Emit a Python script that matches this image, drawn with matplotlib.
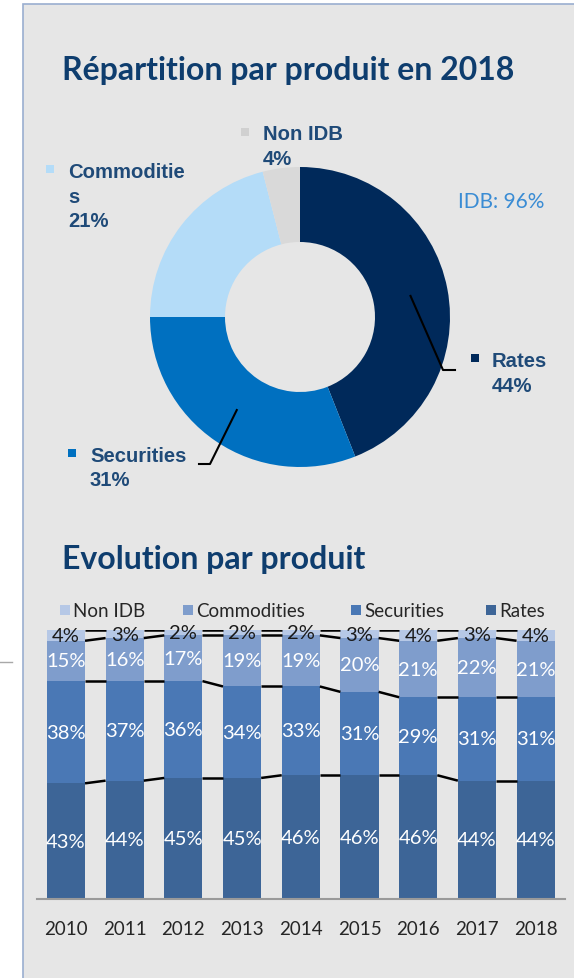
import numpy as np
import matplotlib
matplotlib.use('Agg')
import matplotlib.pyplot as plt
from matplotlib.patches import Rectangle
from matplotlib.lines import Line2D

# donut data (2018)
pie_labels = ['Rates', 'Securities', 'Commodities', 'Non IDB']
pie_values = [44, 31, 21, 4]
pie_colors = ['#00295a', '#0070c0', '#b4dcf8', '#d9d9d9']

# stacked bars
years = ['2010', '2011', '2012', '2013', '2014', '2015', '2016', '2017', '2018']
rates = [43, 44, 45, 45, 46, 46, 46, 44, 44]
securities = [38, 37, 36, 34, 33, 31, 29, 31, 31]
commodities = [15, 16, 17, 19, 19, 20, 21, 22, 21]
non_idb = [4, 3, 2, 2, 2, 3, 4, 3, 4]
bar_colors = ['#3d6597', '#4a78b5', '#7f9dcc', '#b6c8e6']

W, H = 574, 979
BG = '#e6e6e6'
NAVY = '#0e3d6e'
LBL = '#1f4a78'


def fx(x):
    return x / W


def fy(y):
    return 1 - y / H


fig = plt.figure(figsize=(W / 100, H / 100), dpi=100)
fig.patch.set_facecolor('white')

# grey panel behind everything
fig.patches.append(Rectangle((fx(23), fy(990)), fx(600), 985 / H, transform=fig.transFigure,
                             facecolor=BG, edgecolor='#9aaed0', lw=1.2, zorder=-5))
fig.lines.append(Line2D([fx(0), fx(12)], [fy(663), fy(663)], transform=fig.transFigure,
                        color='#a8a8a8', lw=1))

# titles
fig.text(fx(62), fy(80), 'Répartition par produit en 2018', family='Lato', weight='bold',
         fontsize=23, color=NAVY, va='baseline')
fig.text(fx(62), fy(569), 'Evolution par produit', family='Lato', weight='bold',
         fontsize=23, color=NAVY, va='baseline')

# ---- donut
R = 150
ax1 = fig.add_axes([fx(300 - R), fy(318 + R), 2 * R / W, 2 * R / H])
ax1.set_facecolor('none')
wedges, _ = ax1.pie(pie_values, colors=pie_colors, startangle=90, counterclock=False,
                    radius=1, wedgeprops=dict(width=0.5, linewidth=0))
ax1.set_xlim(-1, 1)
ax1.set_ylim(-1, 1)
ax1.set_aspect('auto')
ax1.axis('off')


def mid_point(i, r=0.75):
    start = sum(pie_values[:i])
    frac = (start + pie_values[i] / 2) / sum(pie_values)
    ang = np.deg2rad(90 - 360 * frac)
    return r * np.cos(ang), r * np.sin(ang)


def to_ax(x, y):
    return (x - 300) / R, (318 - y) / R


# leader lines for Rates and Securities
for i, knee, end in [(0, (443, 371), (455, 371)), (1, (210, 465), (199, 465))]:
    x0, y0 = mid_point(i)
    kx, ky = to_ax(*knee)
    ex, ey = to_ax(*end)
    ax1.plot([x0, kx, ex], [y0, ky, ey], color='black', lw=1.5, clip_on=False)


def pie_label(marker_xy, text_x, baselines, lines, color):
    mx, my = marker_xy
    fig.patches.append(Rectangle((fx(mx), fy(my + 8)), 8 / W, 8 / H, transform=fig.transFigure,
                                 facecolor=color, edgecolor='none'))
    for b, t in zip(baselines, lines):
        fig.text(fx(text_x), fy(b), t, family='Liberation Sans', weight='bold', fontsize=14.6,
                 color=LBL, va='baseline')


pie_label((241, 129), 263, [140, 165], ['Non IDB', '%d%%' % pie_values[3]], '#d0d0d0')
pie_label((46, 166), 68, [178, 203], ['Commoditie', 's'], pie_colors[2])
fig.text(fx(68), fy(227), '%d%%' % pie_values[2], family='Liberation Sans', weight='bold',
         fontsize=14.6, color=LBL, va='baseline')
pie_label((471, 355), 492, [367, 392], ['Rates', '%d%%' % pie_values[0]], pie_colors[0])
pie_label((68, 450), 90, [462, 486], ['Securities', '%d%%' % pie_values[1]], pie_colors[1])
fig.text(fx(458), fy(208), 'IDB: %d%%' % (100 - pie_values[3]), family='Lato', fontsize=15,
         color='#3a8cd4', va='baseline')

# ---- stacked bars
ax2 = fig.add_axes([fx(36.6), fy(900), (565 - 36.6) / W, 269 / H])
ax2.set_facecolor('none')
x = np.arange(len(years))
bw = 0.65
series = [rates, securities, commodities, non_idb]
bottom = np.zeros(len(years))
tops = []
for k, (vals, col) in enumerate(zip(series, bar_colors)):
    vals = np.array(vals)
    ax2.bar(x, vals, bw, bottom=bottom, color=col, zorder=2)
    tcol = '#1a1a1a' if k == 3 else 'white'
    for xi, b, v in zip(x, bottom, vals):
        ax2.text(xi, b + v / 2, '%d%%' % v, ha='center', va='center', family='Lato',
                 fontsize=14.5, color=tcol, zorder=4)
    bottom = bottom + vals
    tops.append(bottom.copy())

# series lines between bars
for cum in tops:
    for i in range(len(years) - 1):
        ax2.plot([x[i] + bw / 2, x[i + 1] - bw / 2], [cum[i], cum[i + 1]], color='black',
                 lw=1.8, zorder=3, solid_capstyle='butt')

ax2.set_xlim(-0.5, len(years) - 0.5)
ax2.set_ylim(0, 100)
ax2.set_yticks([])
ax2.set_xticks(x)
ax2.set_xticklabels(years, family='Lato', fontsize=13.5, color='#262626')
ax2.tick_params(axis='x', length=0, pad=15)
for s in ['top', 'right', 'left']:
    ax2.spines[s].set_visible(False)
ax2.spines['bottom'].set_color('#9a9a9a')
ax2.spines['bottom'].set_linewidth(1.5)

# legend, drawn by hand to match spacing
leg_names = ['Non IDB', 'Commodities', 'Securities', 'Rates']
leg_cols = [bar_colors[3], bar_colors[2], bar_colors[1], bar_colors[0]]
leg_sq = [60, 183, 351, 486]
for name, col, sx in zip(leg_names, leg_cols, leg_sq):
    fig.patches.append(Rectangle((fx(sx), fy(616)), 10 / W, 10 / H, transform=fig.transFigure,
                                 facecolor=col, edgecolor='none'))
    fig.text(fx(sx + 13), fy(617), name, family='Lato', fontsize=13.5, color='#262626',
             va='baseline')

fig.savefig('out.png', dpi=100, facecolor=fig.get_facecolor())
